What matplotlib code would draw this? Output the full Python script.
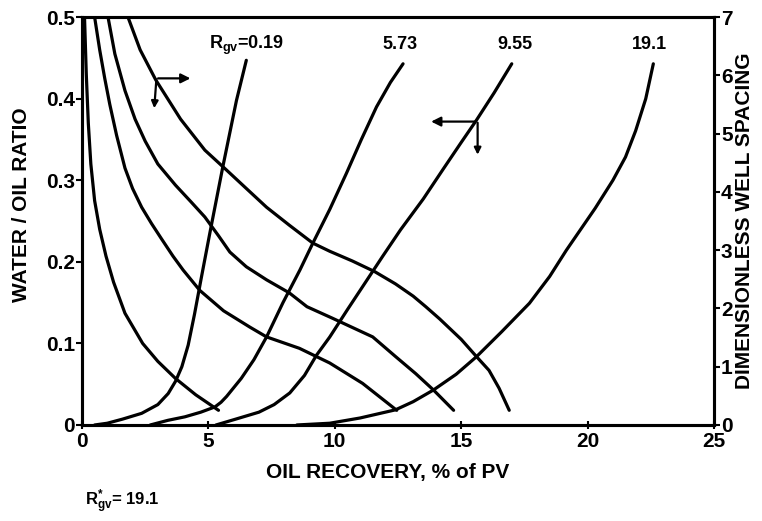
import matplotlib
matplotlib.use("Agg")
import matplotlib.pyplot as plt

plt.rcParams['font.family'] = ['Liberation Sans', 'DejaVu Sans']
plt.rcParams['font.weight'] = 'bold'
plt.rcParams['axes.labelweight'] = 'bold'
plt.rcParams['mathtext.fontset'] = 'custom'
plt.rcParams['mathtext.rm'] = 'Liberation Sans:bold'
plt.rcParams['mathtext.it'] = 'Liberation Sans:bold'
plt.rcParams['mathtext.bf'] = 'Liberation Sans:bold'

# water/oil ratio curves (left axis)
wor_a_x = [0.1, 0.17, 0.25, 0.35, 0.5, 0.7, 0.95, 1.25, 1.7, 2.4, 3.0, 3.7, 4.5, 5.4]
wor_a_y = [0.5, 0.43, 0.37, 0.32, 0.275, 0.24, 0.207, 0.175, 0.137, 0.10, 0.078, 0.057, 0.037, 0.018]
wor_b_x = [0.5, 0.7, 0.9, 1.1, 1.37, 1.7, 2.0, 2.36, 2.75, 3.15, 3.6, 4.0, 4.66, 5.6, 6.64, 7.3, 8.6, 9.8, 11.1, 12.45]
wor_b_y = [0.5, 0.46, 0.425, 0.393, 0.355, 0.315, 0.29, 0.267, 0.247, 0.228, 0.207, 0.19, 0.165, 0.14, 0.12, 0.108, 0.094, 0.076, 0.051, 0.018]
wor_c_x = [1.03, 1.3, 1.7, 2.1, 2.5, 3.0, 3.7, 4.3, 4.86, 5.4, 5.85, 6.5, 7.3, 8.2, 8.9, 9.9, 11.5, 12.4, 13.2, 13.9, 14.7]
wor_c_y = [0.5, 0.455, 0.41, 0.375, 0.348, 0.32, 0.294, 0.274, 0.255, 0.232, 0.212, 0.194, 0.178, 0.162, 0.145, 0.131, 0.108, 0.084, 0.063, 0.043, 0.018]
wor_d_x = [1.82, 2.3, 2.92, 3.9, 4.86, 5.72, 6.5, 7.3, 8.2, 9.13, 9.8, 10.7, 11.58, 12.4, 13.1, 13.6, 14.15, 15.0, 15.6, 16.1, 16.5, 16.9]
wor_d_y = [0.5, 0.46, 0.423, 0.375, 0.337, 0.3125, 0.29, 0.267, 0.245, 0.223, 0.213, 0.201, 0.188, 0.173, 0.158, 0.145, 0.13, 0.105, 0.084, 0.067, 0.045, 0.018]

# dimensionless well spacing curves (right axis)
ws_019_x = [0.5, 1.0, 1.6, 2.36, 3.0, 3.41, 3.7, 3.95, 4.2, 4.45, 4.73, 5.06, 5.57, 6.11, 6.5]
ws_019_y = [0.0, 0.03, 0.1, 0.2, 0.35, 0.54, 0.75, 1.0, 1.37, 1.9, 2.55, 3.3, 4.43, 5.57, 6.26]
ws_573_x = [2.7, 3.4, 4.07, 4.7, 5.26, 5.5, 5.72, 6.3, 6.8, 7.3, 7.95, 8.62, 9.13, 9.8, 10.46, 11.05, 11.65, 12.2, 12.7]
ws_573_y = [0.0, 0.08, 0.14, 0.22, 0.31, 0.39, 0.49, 0.8, 1.12, 1.51, 2.1, 2.66, 3.12, 3.7, 4.32, 4.9, 5.46, 5.88, 6.2]
ws_955_x = [5.3, 6.0, 7.0, 7.6, 8.22, 8.8, 9.28, 9.8, 10.5, 11.2, 11.9, 12.6, 13.5, 14.3, 15.0, 15.6, 16.3, 17.0]
ws_955_y = [0.0, 0.09, 0.22, 0.35, 0.55, 0.85, 1.2, 1.51, 1.98, 2.44, 2.9, 3.35, 3.88, 4.4, 4.85, 5.23, 5.7, 6.2]
ws_191_x = [8.5, 9.8, 11.0, 12.4, 13.1, 13.9, 14.8, 15.6, 16.6, 17.7, 18.5, 19.16, 20.3, 21.0, 21.5, 21.9, 22.3, 22.6]
ws_191_y = [0.0, 0.03, 0.12, 0.26, 0.4, 0.6, 0.87, 1.17, 1.6, 2.09, 2.55, 3.0, 3.72, 4.2, 4.6, 5.05, 5.6, 6.2]

labels = ['R$_{\\mathrm{gv}}$=0.19', '5.73', '9.55', '19.1']
label_x = [6.5, 12.57, 17.13, 22.45]

x_ticks = [0, 5, 10, 15, 20, 25]
y_ticks = [0, 0.1, 0.2, 0.3, 0.4, 0.5]
y_tick_labels = ['0', '0.1', '0.2', '0.3', '0.4', '0.5']
y2_ticks = [0, 1, 2, 3, 4, 5, 6, 7]

fig = plt.figure(figsize=(7.62, 5.21), dpi=100)
ax = fig.add_axes([0.1076, 0.1843, 0.8294, 0.7827])
ax2 = ax.twinx()

lw = 2.3
for xs, ys in [(wor_a_x, wor_a_y), (wor_b_x, wor_b_y), (wor_c_x, wor_c_y), (wor_d_x, wor_d_y)]:
    ax.plot(xs, ys, color='black', lw=lw, solid_capstyle='round', solid_joinstyle='round')
for xs, ys in [(ws_019_x, ws_019_y), (ws_573_x, ws_573_y), (ws_955_x, ws_955_y), (ws_191_x, ws_191_y)]:
    ax2.plot(xs, ys, color='black', lw=lw, solid_capstyle='round', solid_joinstyle='round')

ax.set_xlim(0, 25)
ax.set_ylim(0, 0.5)
ax2.set_ylim(0, 7)
ax.set_xticks(x_ticks)
ax.set_yticks(y_ticks)
ax.set_yticklabels(y_tick_labels)
ax2.set_yticks(y2_ticks)

for a in (ax, ax2):
    for s in a.spines.values():
        s.set_linewidth(2.2)
ax.tick_params(axis='y', direction='out', length=4, width=1.5, labelsize=15, pad=1)
ax.tick_params(axis='x', direction='inout', length=6, width=1.5, labelsize=15, pad=2)
ax2.tick_params(axis='y', direction='out', length=4, width=1.5, labelsize=15, pad=1)

ax.set_xlabel('OIL RECOVERY, % of PV', fontsize=15)
ax.xaxis.set_label_coords(0.483, -0.093)
ax.set_ylabel('WATER / OIL RATIO', fontsize=15)
ax.yaxis.set_label_coords(-0.08, 0.54)
ax2.set_ylabel('DIMENSIONLESS WELL SPACING', fontsize=15)
ax2.yaxis.set_label_coords(1.034, 0.5)

for lab, lx in zip(labels, label_x):
    ax.text(lx, 0.466, lab, fontsize=13, ha='center', va='center')

# arrows pointing to each axis
ax.annotate('', xy=(4.4, 0.425), xytext=(2.9, 0.425),
            arrowprops=dict(arrowstyle='-|>', color='black', lw=1.6, mutation_scale=14))
ax.annotate('', xy=(2.85, 0.385), xytext=(2.95, 0.427),
            arrowprops=dict(arrowstyle='-|>', color='black', lw=1.6, mutation_scale=10))
ax.annotate('', xy=(13.7, 0.372), xytext=(15.65, 0.372),
            arrowprops=dict(arrowstyle='-|>', color='black', lw=1.6, mutation_scale=14))
ax.annotate('', xy=(15.65, 0.328), xytext=(15.65, 0.374),
            arrowprops=dict(arrowstyle='-|>', color='black', lw=1.6, mutation_scale=10))

fig.text(0.112, 0.01, 'R$^{*}_{\\mathrm{gv}}$= 19.1', fontsize=12, ha='left', va='bottom')

fig.savefig('out.png', dpi=100)
